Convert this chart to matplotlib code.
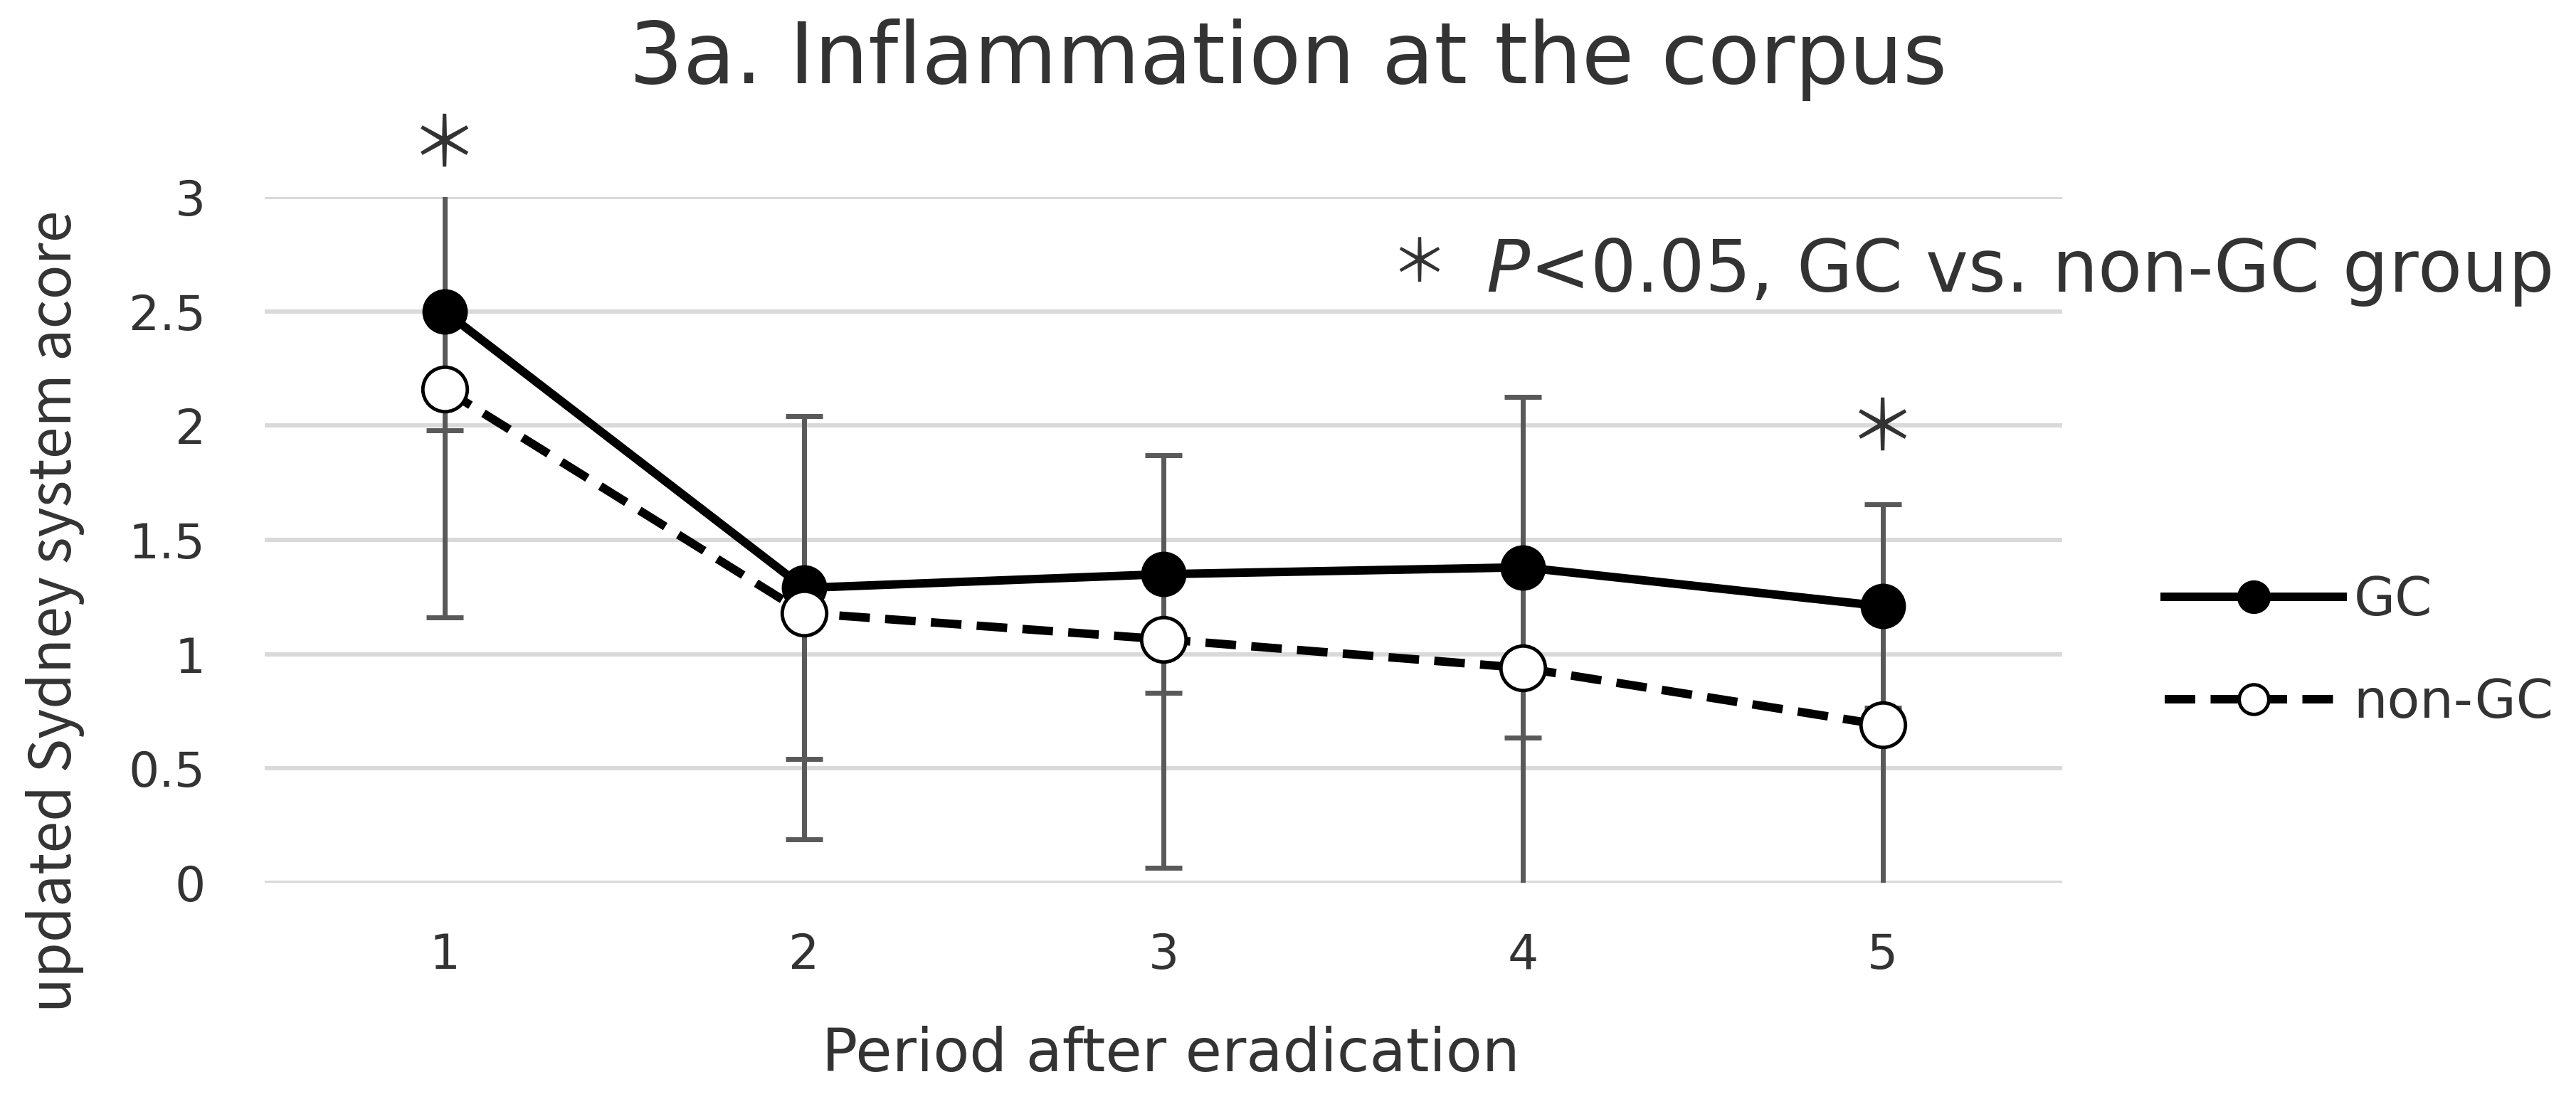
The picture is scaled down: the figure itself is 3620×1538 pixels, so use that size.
import numpy as np
import matplotlib.pyplot as plt
from matplotlib.lines import Line2D

plt.rcParams['font.family'] = ['DejaVu Sans', 'Noto Sans CJK JP']
plt.rcParams['mathtext.fontset'] = 'dejavusans'

# values
periods = [1, 2, 3, 4, 5]
gc_mean = [2.50, 1.29, 1.35, 1.38, 1.21]
gc_sd = [0.52, 0.75, 0.52, 0.745, 0.445]
nongc_mean = [2.16, 1.18, 1.065, 0.94, 0.69]
nongc_sd = [1.00, 0.99, 1.00, 1.00, 0.95]   # only the lower bar is drawn
signif_period = [1, 5]
signif_y = [3.22, 1.98]
yticks = [0, 0.5, 1, 1.5, 2, 2.5, 3]
ytick_labels = ["0", "0.5", "1", "1.5", "2", "2.5", "3"]

TXT = '#333333'
CJK = 'Noto Sans CJK JP'

fig = plt.figure(figsize=(36.2, 15.38), dpi=100)
ax = fig.add_axes([0.1028, 0.1931, 0.6978, 0.6268])

# error bars
ax.errorbar(periods, gc_mean, yerr=gc_sd, fmt='none', ecolor='#595959',
            elinewidth=5, capsize=18.7, capthick=5, zorder=2)
ax.errorbar(periods, nongc_mean, yerr=[nongc_sd, np.zeros(len(periods))],
            fmt='none', ecolor='#595959', elinewidth=5, capsize=18.7,
            capthick=5, zorder=2)

# lines
ax.plot(periods, gc_mean, color='black', lw=8.6, marker='o', ms=45,
        mfc='black', mec='black', zorder=3)
ax.plot(periods, nongc_mean, color='black', lw=8.6, dashes=(3.6, 1.8),
        marker='o', ms=45, mfc='white', mec='black', mew=3.5, zorder=4)

for p, y in zip(signif_period, signif_y):
    ax.text(p, y, "＊", ha='center', va='center', fontsize=70, color=TXT,
            family=CJK, clip_on=False)

ax.set_xlim(0.5, 5.5)
ax.set_ylim(0, 3)
ax.set_xticks(periods)
ax.set_xticklabels([str(p) for p in periods])
ax.set_yticks(yticks)
ax.set_yticklabels(ytick_labels)
ax.yaxis.grid(True, color='#d9d9d9', lw=4.3)
ax.set_axisbelow(True)
for s in ax.spines.values():
    s.set_visible(False)
ax.tick_params(axis='both', length=0, labelsize=49, labelcolor=TXT)
ax.tick_params(axis='y', pad=60)
ax.tick_params(axis='x', pad=50)

# legend
handles = [
    Line2D([], [], color='black', lw=8.6, marker='o', ms=33, mfc='black'),
    Line2D([], [], color='black', lw=8.6, dashes=(3.6, 1.8), marker='o',
           ms=30, mfc='white', mec='black', mew=3.5),
]
fig.legend(handles, ["GC", "non-GC"], loc='upper left',
           bbox_to_anchor=(3042 / 3620, 0.4746), frameon=False, fontsize=54,
           handlelength=3.33, handletextpad=0.21, labelspacing=0.95,
           borderpad=0, borderaxespad=0, labelcolor=TXT)

# texts
fig.text(0.5, 0.9239, "3a. Inflammation at the corpus", ha='center',
         va='baseline', fontsize=86, color=TXT)
fig.text(0.5508, 0.7581, "＊", ha='center', va='center', fontsize=59,
         color=TXT, family=CJK)
fig.text(0.5768, 0.7334, "$\\mathit{P}$<0.05, GC vs. non-GC group",
         ha='left', va='baseline', fontsize=73, color=TXT)
fig.text(0.4545, 1 - 1506 / 1538, "Period after eradication", ha='center',
         va='baseline', fontsize=60, color=TXT)
fig.text(0.0215, 0.4415, "updated Sydney system acore", rotation=90,
         ha='center', va='center', fontsize=58, color=TXT, family=CJK)

fig.savefig("out.png", dpi=100)
